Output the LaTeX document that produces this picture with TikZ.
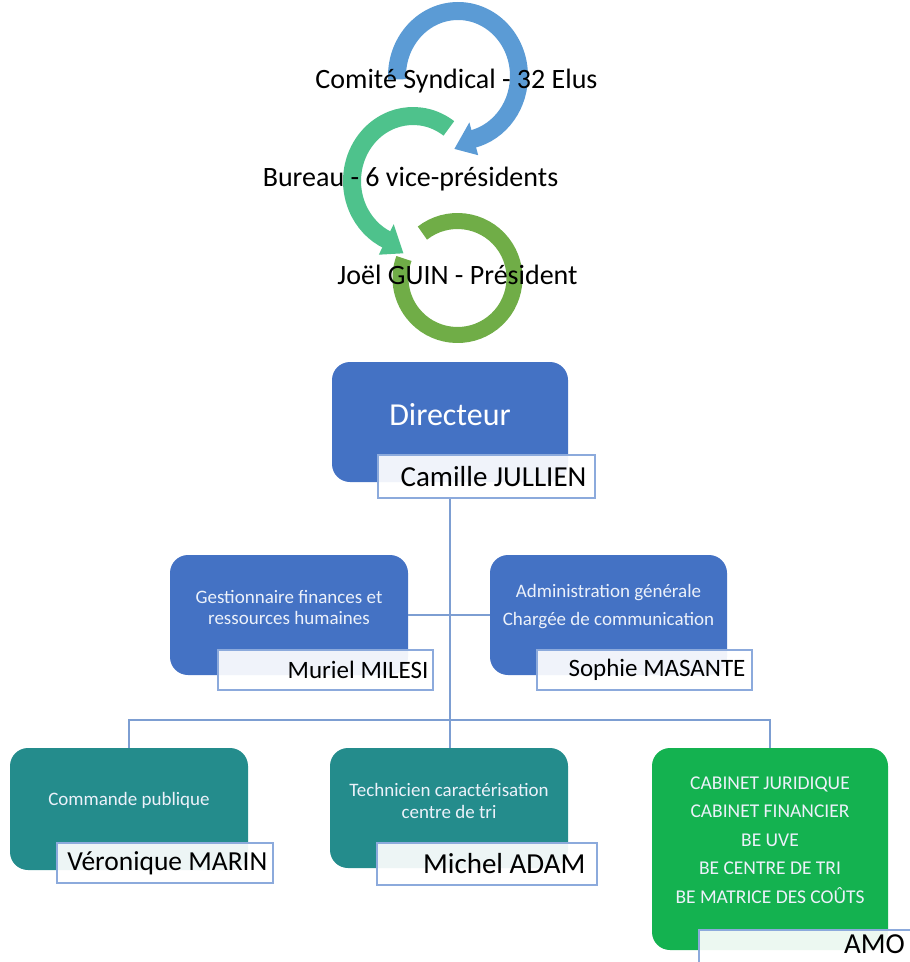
\documentclass[tikz,border=0pt]{standalone}
\usepackage{fontspec}
\setmainfont{Carlito}
\usetikzlibrary{calc}
\definecolor{arrowblue}{RGB}{91,155,213}
\definecolor{arrowteal}{RGB}{78,194,140}
\definecolor{ringgreen}{RGB}{112,173,71}
\definecolor{boxblue}{RGB}{68,114,196}
\definecolor{boxteal}{RGB}{36,140,140}
\definecolor{boxgreen}{RGB}{20,178,80}
\definecolor{lineblue}{RGB}{125,158,210}
\definecolor{namebord}{RGB}{140,170,220}
\definecolor{desctext}{RGB}{236,241,250}
\begin{document}
\begin{tikzpicture}[x=1pt,y=1pt,
  card/.style={draw=none, rounded corners=18pt, inner sep=0pt},
  namebox/.style={draw=namebord, line width=1.3pt, fill=white, fill opacity=0.92, inner sep=0pt},
  nametext/.style={anchor=east, inner sep=0pt, text=black},
  desc/.style={text=desctext, align=center, inner sep=0pt},
  toplabel/.style={font=\fontsize{28}{30}\selectfont, inner sep=0pt, text=black},
  conn/.style={draw=lineblue, line width=1.8pt}]
\useasboundingbox (0,0) rectangle (910,-962);
\clip (0,0) rectangle (910,-962);

% ---- circular arrows ----
\coordinate (B) at (458,-76);
\coordinate (T) at (413,-181);
\coordinate (G) at (457.5,-278);
\draw[line width=16pt, ringgreen] ($(G)+(128:57)$) arc[start angle=128, end angle=-200, radius=57];
\draw[line width=18pt, arrowteal] ($(T)+(54:61 and 65)$) arc[start angle=54, end angle=246, x radius=61, y radius=65];
\fill[arrowteal] ($(T)+(244:44 and 48)$) -- ($(T)+(244:78 and 82)$) -- ($(T)+(262:69 and 73)$) -- cycle;
\draw[line width=18pt, arrowblue] ($(B)+(183:61 and 65)$) arc[start angle=183, end angle=-77, x radius=61, y radius=65];
\fill[arrowblue] ($(B)+(-75:44 and 48)$) -- ($(B)+(-75:78 and 82)$) -- ($(B)+(-93:69 and 73)$) -- cycle;

\node[toplabel] (t1) at (456.5,-81) {Comité Syndical - 32 Elus};
\node[toplabel] (t2) at (410.5,-179) {Bureau - 6 vice-présidents};
\node[toplabel] (t3) at (457.5,-275) {Joël GUIN - Président};

% ---- org chart ----
\node[card, fill=boxblue, minimum width=236pt, minimum height=120pt] (dir) at (450,-422) {};
\node[desc, text=white, font=\fontsize{32}{34}\selectfont] (dirt) at (450,-415) {Directeur};
\node[namebox, minimum width=217pt, minimum height=43pt] (n0) at (486.5,-476.5) {};
\node[nametext, font=\fontsize{29}{30}\selectfont] (n0t) at ($(n0.east)+(-9,0)$) {Camille JULLIEN};

\node[card, fill=boxblue, minimum width=238pt, minimum height=120pt] (g1) at (289,-615) {};
\node[desc, font=\fontsize{19}{21}\selectfont] (g1t) at (289,-607.5) {Gestionnaire finances et\\ressources humaines};
\node[namebox, minimum width=215pt, minimum height=40pt] (n1) at (325.5,-670) {};
\node[nametext, font=\fontsize{25}{26}\selectfont] (n1t) at ($(n1.east)+(-5,0)$) {Muriel MILESI};

\node[card, fill=boxblue, minimum width=237pt, minimum height=120pt] (g2) at (608.5,-615) {};
\node[desc, font=\fontsize{19}{28}\selectfont] (g2t) at (608.5,-607) {Administration générale\\Chargée de communication};
\node[namebox, minimum width=215pt, minimum height=40pt] (n2) at (644.5,-670) {};
\node[nametext, font=\fontsize{25}{26}\selectfont] (n2t) at ($(n2.east)+(-7,0)$) {Sophie MASANTE};

\node[card, fill=boxteal, minimum width=238pt, minimum height=122pt] (c1) at (129,-809) {};
\node[desc, font=\fontsize{19}{21}\selectfont] (c1t) at (129,-800) {Commande publique};
\node[namebox, minimum width=216pt, minimum height=40pt] (n3) at (165,-863) {};
\node[nametext, font=\fontsize{27.5}{28}\selectfont] (n3t) at ($(n3.east)+(-6,0)$) {Véronique MARIN};

\node[card, fill=boxteal, minimum width=238pt, minimum height=120pt] (c2) at (449,-808) {};
\node[desc, font=\fontsize{19}{22}\selectfont] (c2t) at (449,-801) {Technicien caractérisation\\centre de tri};
\node[namebox, minimum width=220pt, minimum height=42pt] (n4) at (487,-864) {};
\node[nametext, font=\fontsize{29}{30}\selectfont] (n4t) at ($(n4.east)+(-12,0)$) {Michel ADAM};

\node[card, fill=boxgreen, minimum width=236pt, minimum height=202pt] (amo) at (770,-849) {};
\node[desc, font=\fontsize{19.5}{28.5}\selectfont] (amot) at (770,-840) {CABINET JURIDIQUE\\CABINET FINANCIER\\BE UVE\\BE CENTRE DE TRI\\BE MATRICE DES COÛTS};
\node[namebox, minimum width=216pt, minimum height=45pt] (n5) at (807,-952.5) {};
\node[nametext, anchor=base east, font=\fontsize{29}{30}\selectfont] (n5t) at (905,-953) {AMO};

% ---- connectors ----
\draw[conn] (n0.south -| dir.south) -- (dir.south |- c2.north);
\draw[conn] (g1.east) -- (g2.west);
\draw[conn] (c1.north) -- ++(0,28) -| (amo.north);
\end{tikzpicture}
\end{document}
